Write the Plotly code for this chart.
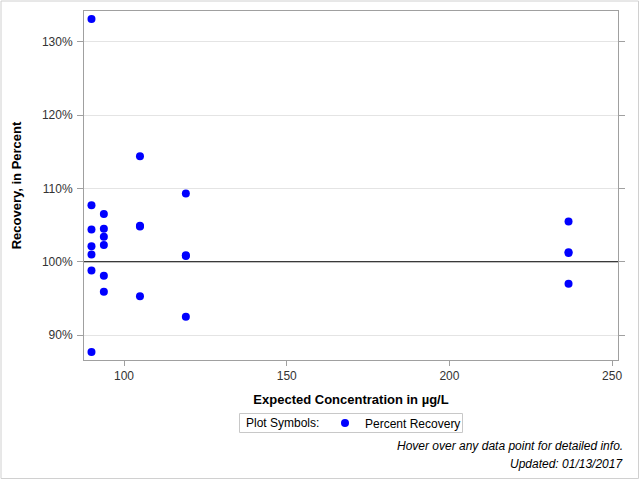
import plotly.graph_objects as go

# Expected concentration (ug/L) and percent recovery
conc = [90, 90, 90, 90, 90, 90, 90,
        93.8, 93.8, 93.8, 93.8, 93.8, 93.8,
        104.9, 104.9, 104.9, 104.9,
        119, 119, 119, 119,
        236.6, 236.6, 236.6, 236.6]
recovery = [133.1, 107.7, 104.4, 102.1, 101.0, 98.8, 87.7,
            106.5, 104.5, 103.4, 102.3, 98.1, 95.9,
            114.4, 104.8, 104.9, 95.3,
            109.3, 100.8, 100.9, 92.5,
            105.5, 101.2, 101.3, 97.0]

x_ticks = [100, 150, 200, 250]
y_ticks = [90, 100, 110, 120, 130]
y_tick_labels = ["90%", "100%", "110%", "120%", "130%"]

font_family = "Liberation Sans, Arial, sans-serif"

fig = go.Figure()
fig.add_trace(go.Scatter(
    x=conc, y=recovery, mode="markers", name="Percent Recovery",
    marker=dict(color="#0000ff", size=8, line=dict(width=0)),
))

fig.add_hline(y=100, line=dict(color="black", width=1), layer="above")

L, R, T, B = 84, 22, 11, 120
W, H = 640, 480
pw, ph = W - L - R, H - T - B

def px(x):
    return (x - L) / pw

def py(y):
    return (H - B - y) / ph

# outer frame of the whole graphic
fig.add_shape(type="rect", xref="paper", yref="paper",
              x0=px(1), x1=px(638.5), y0=py(478.5), y1=py(1),
              line=dict(color="#d0d0d0", width=1), layer="below")
# legend frame
fig.add_shape(type="rect", xref="paper", yref="paper",
              x0=px(239.5), x1=px(462.5), y0=py(432.5), y1=py(413.5),
              line=dict(color="#c8c8c8", width=1), layer="below")

fig.update_layout(
    width=W, height=H,
    margin=dict(l=L, r=R, t=T, b=B, pad=0),
    paper_bgcolor="white", plot_bgcolor="white",
    font=dict(family=font_family, size=12, color="#000000"),
    showlegend=True,
    legend=dict(
        orientation="h", x=px(325), xanchor="left", y=py(423), yanchor="middle",
        bgcolor="rgba(0,0,0,0)", borderwidth=0,
        font=dict(size=12), itemwidth=30,
    ),
    xaxis=dict(
        range=[87.7, 251.8], tickvals=x_ticks, ticks="outside", ticklen=5,
        tickcolor="#a0a0a0", showline=True, linecolor="#a0a0a0", mirror=True,
        showgrid=False, zeroline=False,
        title=dict(text="<b>Expected Concentration in µg/L</b>", standoff=12,
                   font=dict(size=13)),
        tickfont=dict(size=12, color="#333333"),
    ),
    yaxis=dict(
        range=[86.6, 134.2], tickvals=y_ticks, ticktext=y_tick_labels,
        ticks="outside", ticklen=6, tickcolor="#a0a0a0",
        showline=True, linecolor="#a0a0a0", mirror="ticks",
        showgrid=True, gridcolor="#e4e4e4", zeroline=False,
        ticklabelstandoff=2,
        title=dict(text="<b>Recovery, in Percent</b>", standoff=17,
                   font=dict(size=13)),
        tickfont=dict(size=12, color="#333333"),
    ),
    annotations=[
        dict(text="Plot Symbols:",
             xref="paper", yref="paper", x=px(244), y=py(423),
             xanchor="left", yanchor="middle", showarrow=False,
             font=dict(size=12, color="#000000")),
        dict(text="<i>Hover over any data point for detailed info.</i>",
             xref="paper", yref="paper", x=px(625), y=py(446),
             xanchor="right", yanchor="middle", showarrow=False,
             font=dict(size=12, color="#000000")),
        dict(text="<i>Updated: 01/13/2017</i>",
             xref="paper", yref="paper", x=px(625), y=py(464),
             xanchor="right", yanchor="middle", showarrow=False,
             font=dict(size=12, color="#000000")),
    ],
)

fig.write_html("out.html")
